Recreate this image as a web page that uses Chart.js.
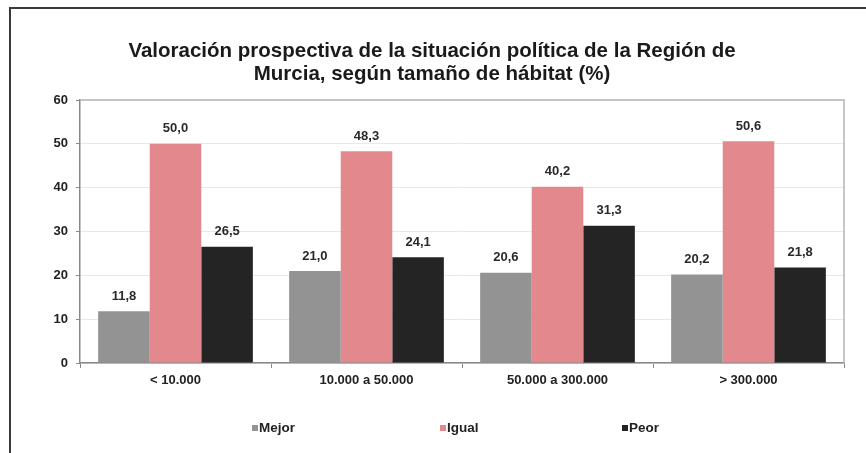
<!DOCTYPE html>
<html>
<head>
<meta charset="utf-8">
<script src="https://cdn.jsdelivr.net/npm/chart.js@4/dist/chart.umd.min.js"></script>
<style>
html,body{margin:0;padding:0;background:#fff;}
#wrap{width:866px;height:453px;position:relative;}
</style>
</head>
<body>
<div id="wrap"><canvas id="c" width="866" height="453"></canvas></div>
<script>
const titleLines = ["Valoración prospectiva de la situación política de la Región de", "Murcia, según tamaño de hábitat (%)"];
const categories = ["< 10.000", "10.000 a 50.000", "50.000 a 300.000", "> 300.000"];
const seriesNames = ["Mejor", "Igual", "Peor"];
const mejor = [11.8, 21.0, 20.6, 20.2];
const igual = [50.0, 48.3, 40.2, 50.6];
const peor = [26.5, 24.1, 31.3, 21.8];
const seriesColors = ["#939393", "#e3898e", "#242424"];
const yTicks = [0, 10, 20, 30, 40, 50, 60];

const FONT = "'Liberation Sans', Arial, sans-serif";

const framePlugin = {
  id: 'frame',
  beforeDraw(chart) {
    const ctx = chart.ctx;
    ctx.save();
    ctx.fillStyle = '#fff';
    ctx.fillRect(0, 0, chart.width, chart.height);
    ctx.strokeStyle = '#3a3a3a';
    ctx.lineWidth = 2;
    ctx.beginPath();
    ctx.moveTo(10, chart.height);
    ctx.lineTo(10, 8);
    ctx.lineTo(chart.width, 8);
    ctx.stroke();
    ctx.restore();
  },
  afterDraw(chart) {
    const ctx = chart.ctx;
    const a = chart.chartArea;
    ctx.save();
    // title
    ctx.fillStyle = '#1a1a1a';
    ctx.font = 'bold 20.5px ' + FONT;
    ctx.textAlign = 'center';
    ctx.textBaseline = 'middle';
    const cx = 432;
    titleLines.forEach((t, i) => ctx.fillText(t, cx, 51 + i * 23.5));
    // plot border (top/right)
    ctx.strokeStyle = '#b4b4b4';
    ctx.lineWidth = 1.5;
    ctx.beginPath();
    ctx.moveTo(a.left, a.top);
    ctx.lineTo(a.right, a.top);
    ctx.lineTo(a.right, a.bottom);
    ctx.stroke();
    // legend
    const xs = [252, 440, 622];
    ctx.font = 'bold 13.5px ' + FONT;
    ctx.textAlign = 'left';
    chart.data.datasets.forEach((ds, i) => {
      ctx.fillStyle = ds.backgroundColor;
      ctx.fillRect(xs[i], 425, 6, 6);
      ctx.fillStyle = '#222';
      ctx.fillText(ds.label, xs[i] + 7, 428.5);
    });
    ctx.restore();
  },
  afterDatasetsDraw(chart) {
    const ctx = chart.ctx;
    ctx.save();
    ctx.font = 'bold 13px ' + FONT;
    ctx.fillStyle = '#2a2a2a';
    ctx.textAlign = 'center';
    ctx.textBaseline = 'middle';
    chart.data.datasets.forEach((ds, di) => {
      const meta = chart.getDatasetMeta(di);
      meta.data.forEach((bar, i) => {
        const v = ds.data[i];
        ctx.fillText(v.toFixed(1).replace('.', ','), bar.x, bar.y - 15);
      });
    });
    ctx.restore();
  }
};

new Chart(document.getElementById('c'), {
  type: 'bar',
  data: {
    labels: categories,
    datasets: [
      { label: seriesNames[0], data: mejor, backgroundColor: seriesColors[0] },
      { label: seriesNames[1], data: igual, backgroundColor: seriesColors[1] },
      { label: seriesNames[2], data: peor, backgroundColor: seriesColors[2] }
    ]
  },
  options: {
    responsive: false,
    animation: false,
    devicePixelRatio: 1,
    layout: { padding: { left: 0, top: 100, right: 22, bottom: 0 } },
    datasets: { bar: { categoryPercentage: 0.81, barPercentage: 1.0, borderWidth: 0 } },
    plugins: { legend: { display: false }, title: { display: false }, tooltip: { enabled: false } },
    scales: {
      x: {
        afterFit(s) { s.height = 90; },
        grid: { display: true, drawOnChartArea: false, drawTicks: true, tickLength: 5, color: '#888', offset: true },
        border: { color: '#888', width: 1.5 },
        ticks: { color: '#222', font: { family: FONT, size: 13, weight: 'bold' }, padding: 5, maxRotation: 0 }
      },
      y: {
        min: 0, max: 60,
        afterFit(s) { s.width = 80; },
        afterBuildTicks(s) { s.ticks = yTicks.map(v => ({ value: v })); },
        grid: { color: '#e8e8e8', lineWidth: 1, drawTicks: true, tickLength: 4, tickColor: '#888' },
        border: { color: '#888', width: 1.5 },
        ticks: { color: '#222', font: { family: FONT, size: 13, weight: 'bold' }, padding: 8 }
      }
    }
  },
  plugins: [framePlugin]
});
</script>
</body>
</html>
